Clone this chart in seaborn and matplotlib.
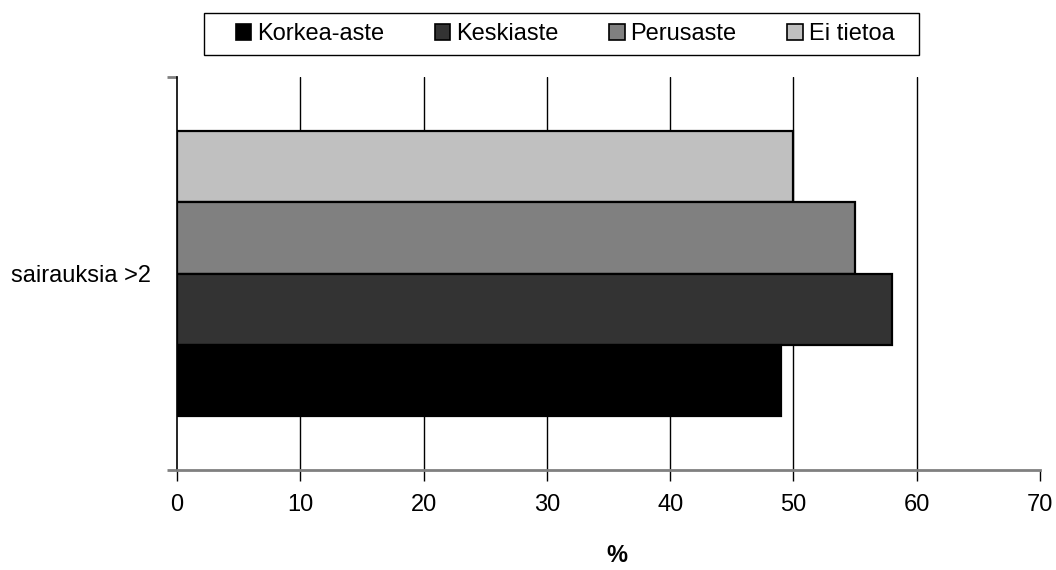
import matplotlib
matplotlib.use("Agg")
import matplotlib.pyplot as plt
from matplotlib.patches import Patch, Rectangle
import pandas as pd
import seaborn as sns

# Data
category = ["sairauksia >2"]
groups = ["Korkea-aste", "Keskiaste", "Perusaste", "Ei tietoa"]
values = [49, 58, 55, 50]
colors = ["#000000", "#333333", "#808080", "#C0C0C0"]
x_ticks = [0, 10, 20, 30, 40, 50, 60, 70]
x_label = "%"

sns.set_style("white")
plt.rcParams["font.family"] = ["Liberation Sans", "DejaVu Sans"]
plt.rcParams["text.color"] = "black"
plt.rcParams["xtick.color"] = "black"
plt.rcParams["ytick.color"] = "black"
plt.rcParams["xtick.labelcolor"] = "black"
plt.rcParams["ytick.labelcolor"] = "black"
FS = 17

W, H = 1056, 570

df = pd.DataFrame({
    "Ryhmä": category * len(groups),
    "Koulutus": groups,
    "Osuus": values,
})
palette = dict(zip(groups, colors))

fig = plt.figure(figsize=(W / 100, H / 100), dpi=100)
ax = fig.add_axes([177 / W, 1 - 470 / H, (1040 - 177) / W, (470 - 77) / H])

# Vertical gridlines (inner ticks only) drawn beneath the bars
for xv in x_ticks[1:-1]:
    ax.axvline(xv, color="black", lw=1.0, zorder=0)

sns.barplot(
    data=df, x="Osuus", y="Ryhmä", hue="Koulutus",
    hue_order=groups[::-1], palette=palette, orient="h",
    width=0.726, edgecolor="black", linewidth=1.6,
    legend=False, ax=ax, zorder=2,
)

ax.set_xlim(x_ticks[0], x_ticks[-1])
ax.set_ylim(0.5, -0.5)
ax.set_xticks(x_ticks)
ax.set_xticklabels([str(t) for t in x_ticks], fontsize=FS)
ax.tick_params(axis="x", bottom=True, direction="out", length=8, width=1,
               color="black", labelcolor="black", pad=9)

ax.set_yticks([0])
ax.set_yticklabels(category, fontsize=FS)
ax.tick_params(axis="y", which="major", left=True, length=0, pad=19, labelcolor="black")
ax.set_yticks([-0.5, 0.5], minor=True)
ax.tick_params(axis="y", which="minor", left=True, direction="out", length=7,
               width=2, color="#808080")

ax.set_xlabel("")
ax.set_ylabel("")
for side in ("top", "right"):
    ax.spines[side].set_visible(False)
ax.spines["left"].set_color("black")
ax.spines["left"].set_linewidth(1.2)
ax.spines["bottom"].set_color("#808080")
ax.spines["bottom"].set_linewidth(2)
ax.spines["bottom"].set_zorder(3)

fig.text(617 / W, 1 - 555 / H, x_label, fontsize=FS, fontweight="bold",
         ha="center", va="center", color="black")

# Legend entries, with a plain rectangular box drawn around them
handles = [Patch(facecolor=c, edgecolor="black", linewidth=1.2) for c in colors]
leg = fig.legend(
    handles, groups, ncol=4, loc="center",
    bbox_to_anchor=(565 / W, 1 - 34 / H),
    fontsize=FS, frameon=False,
    handlelength=0.65, handleheight=0.65, handletextpad=0.25,
    columnspacing=2.15, borderpad=0.3,
)
for t in leg.get_texts():
    t.set_color("black")
fig.patches.append(Rectangle(
    (204 / W, 1 - 55 / H), (919 - 204) / W, (55 - 13) / H,
    transform=fig.transFigure, facecolor="none", edgecolor="black", linewidth=1.0,
))

fig.savefig("out.png", dpi=100, facecolor="white")
